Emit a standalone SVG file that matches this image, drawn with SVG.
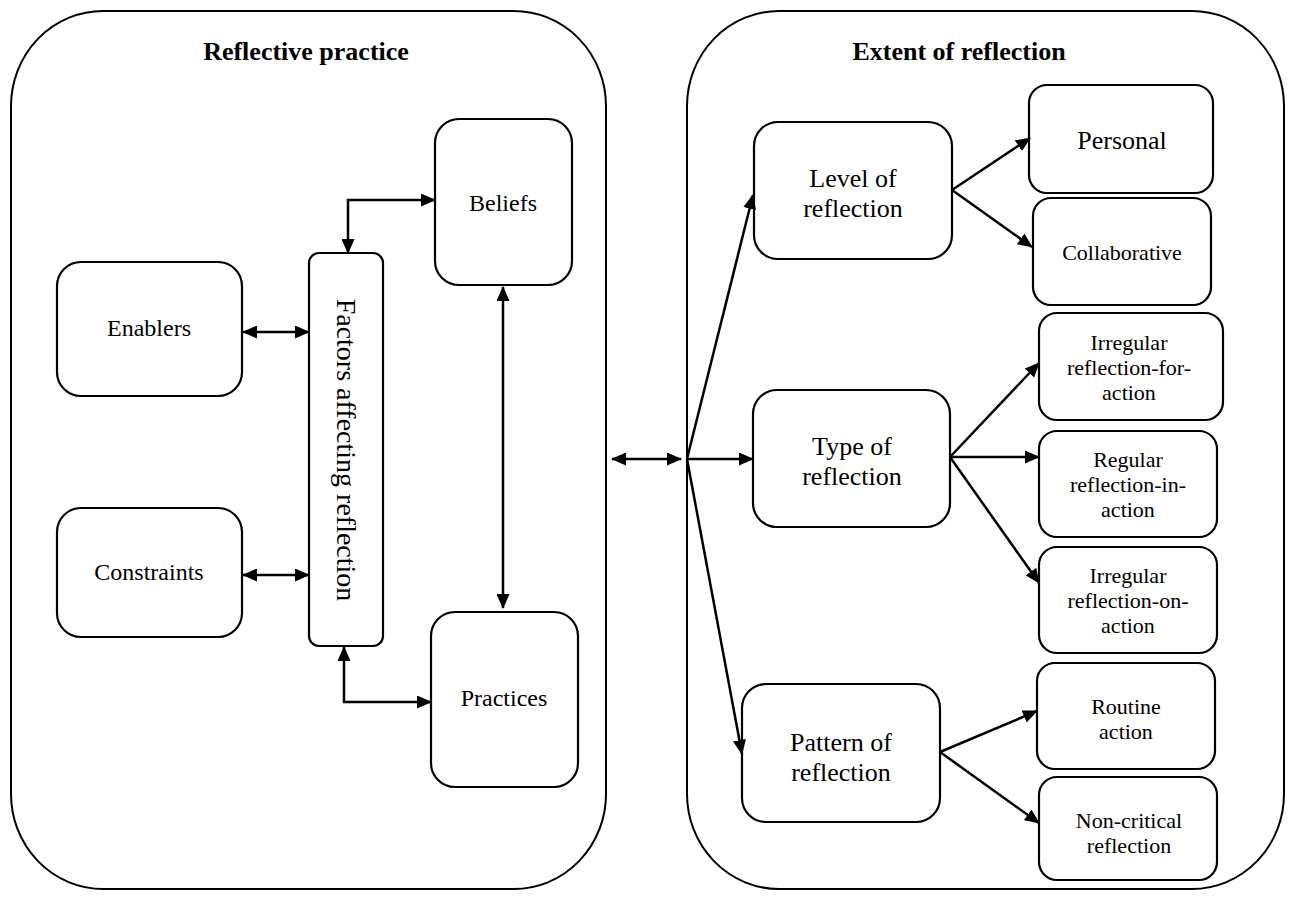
<svg xmlns="http://www.w3.org/2000/svg" width="1296" height="897" viewBox="0 0 1296 897" font-family="'Liberation Serif', 'Times New Roman', serif">
  <style>
    .frame { fill: none; stroke: #000; stroke-width: 2; }
    .box { fill: #fff; stroke: #000; stroke-width: 2.2; }
    text { font-family: "Liberation Serif", "Times New Roman", serif; fill: #000; text-anchor: middle; }
    .title { font-weight: bold; font-size: 26px; }
    .big { font-size: 26px; }
    .mid { font-size: 24px; }
    .sm { font-size: 22px; }
    .vert { font-size: 28px; }
    .edge { fill: none; stroke: #000; stroke-width: 2.5; marker-end: url(#arrow); }
    .both { marker-start: url(#arrow); }
  </style>
  <defs>
    <marker id="arrow" viewBox="0 0 15 13" refX="14" refY="6.5" markerWidth="15" markerHeight="13" markerUnits="userSpaceOnUse" orient="auto-start-reverse">
      <path d="M0,0 L15,6.5 L0,13 z" fill="#000"/>
    </marker>
  </defs>
  <rect width="1296" height="897" fill="#fff"/>

  <!-- containers -->
  <g id="reflective-practice">
    <rect class="frame" x="11" y="11" width="595" height="878" rx="92" ry="95"/>
    <text class="title" x="306" y="60">Reflective practice</text>
  </g>
  <g id="extent-of-reflection">
    <rect class="frame" x="687" y="11" width="597" height="878" rx="92" ry="95"/>
    <text class="title" x="959" y="60">Extent of reflection</text>
  </g>

  <!-- left panel nodes -->
  <g id="enablers">
    <rect class="box" x="57" y="262" width="185" height="134" rx="24"/>
    <text class="mid" x="149" y="336">Enablers</text>
  </g>
  <g id="constraints">
    <rect class="box" x="57" y="508" width="185" height="129" rx="24"/>
    <text class="mid" x="149" y="580">Constraints</text>
  </g>
  <g id="factors">
    <rect class="box" x="309" y="253" width="74" height="393" rx="10"/>
    <text class="vert" transform="translate(346 450) rotate(90)" x="0" y="9">Factors affecting reflection</text>
  </g>
  <g id="beliefs">
    <rect class="box" x="435" y="119" width="137" height="166" rx="24"/>
    <text class="mid" x="503" y="211">Beliefs</text>
  </g>
  <g id="practices">
    <rect class="box" x="431" y="612" width="147" height="175" rx="24"/>
    <text class="mid" x="504" y="706">Practices</text>
  </g>

  <!-- right panel nodes -->
  <g id="level">
    <rect class="box" x="754" y="122" width="198" height="137" rx="24"/>
    <text class="big" x="853" y="187">Level of</text>
    <text class="big" x="853" y="217">reflection</text>
  </g>
  <g id="type">
    <rect class="box" x="753" y="390" width="197" height="137" rx="24"/>
    <text class="big" x="852" y="455">Type of</text>
    <text class="big" x="852" y="485">reflection</text>
  </g>
  <g id="pattern">
    <rect class="box" x="742" y="684" width="198" height="138" rx="24"/>
    <text class="big" x="841" y="751">Pattern of</text>
    <text class="big" x="841" y="781">reflection</text>
  </g>
  <g id="personal">
    <rect class="box" x="1029" y="85" width="184" height="108" rx="18"/>
    <text class="big" x="1122" y="149">Personal</text>
  </g>
  <g id="collaborative">
    <rect class="box" x="1033" y="198" width="178" height="107" rx="18"/>
    <text class="sm" x="1122" y="260">Collaborative</text>
  </g>
  <g id="irregular-for">
    <rect class="box" x="1039" y="313" width="184" height="107" rx="18"/>
    <text class="sm" x="1129" y="350">Irregular</text>
    <text class="sm" x="1129" y="375">reflection-for-</text>
    <text class="sm" x="1129" y="400">action</text>
  </g>
  <g id="regular-in">
    <rect class="box" x="1039" y="431" width="178" height="106" rx="18"/>
    <text class="sm" x="1128" y="467">Regular</text>
    <text class="sm" x="1128" y="492">reflection-in-</text>
    <text class="sm" x="1128" y="517">action</text>
  </g>
  <g id="irregular-on">
    <rect class="box" x="1039" y="547" width="178" height="106" rx="18"/>
    <text class="sm" x="1128" y="583">Irregular</text>
    <text class="sm" x="1128" y="608">reflection-on-</text>
    <text class="sm" x="1128" y="633">action</text>
  </g>
  <g id="routine">
    <rect class="box" x="1037" y="663" width="178" height="106" rx="18"/>
    <text class="sm" x="1126" y="714">Routine</text>
    <text class="sm" x="1126" y="739">action</text>
  </g>
  <g id="non-critical">
    <rect class="box" x="1039" y="777" width="178" height="103" rx="18"/>
    <text class="sm" x="1129" y="828">Non-critical</text>
    <text class="sm" x="1129" y="853">reflection</text>
  </g>

  <!-- connectors -->
  <g id="connectors">
    <line class="edge both" x1="243" y1="332" x2="309" y2="332"/>
    <line class="edge both" x1="243" y1="575" x2="309" y2="575"/>
    <polyline class="edge both" points="348,253 348,200 435,200"/>
    <polyline class="edge both" points="344,647 344,702 431,702"/>
    <line class="edge both" x1="503" y1="287" x2="503" y2="608"/>
    <line class="edge both" x1="612" y1="459" x2="681" y2="459"/>

    <line class="edge" x1="687" y1="459" x2="753" y2="195"/>
    <line class="edge" x1="687" y1="459" x2="753" y2="459"/>
    <line class="edge" x1="687" y1="459" x2="742" y2="754"/>

    <line class="edge" x1="952" y1="190" x2="1030" y2="138"/>
    <line class="edge" x1="952" y1="190" x2="1032" y2="247"/>

    <line class="edge" x1="950" y1="457" x2="1039" y2="363"/>
    <line class="edge" x1="950" y1="457" x2="1039" y2="457"/>
    <line class="edge" x1="950" y1="457" x2="1039" y2="583"/>

    <line class="edge" x1="940" y1="752" x2="1037" y2="711"/>
    <line class="edge" x1="940" y1="752" x2="1039" y2="823"/>
  </g>
</svg>
